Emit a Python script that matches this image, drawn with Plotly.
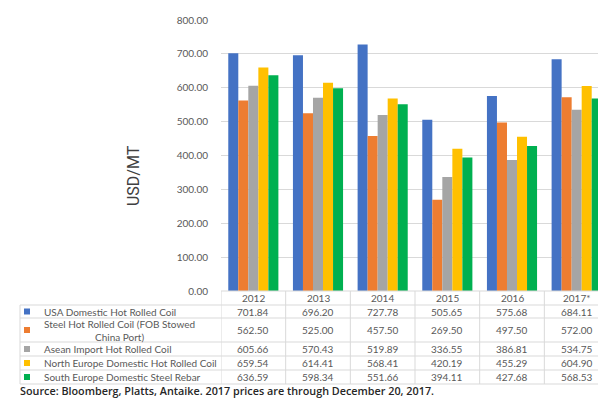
import plotly.graph_objects as go

years = ["2012", "2013", "2014", "2015", "2016", "2017*"]
series_names = [
    "USA Domestic Hot Rolled Coil",
    "Steel Hot Rolled Coil (FOB Stowed<br>China Port)",
    "Asean Import Hot Rolled Coil",
    "North Europe Domestic Hot Rolled Coil",
    "South Europe Domestic Steel Rebar",
]
usa = [701.84, 696.20, 727.78, 505.65, 575.68, 684.11]
china = [562.50, 525.00, 457.50, 269.50, 497.50, 572.00]
asean = [605.66, 570.43, 519.89, 336.55, 386.81, 534.75]
north_eu = [659.54, 614.41, 568.41, 420.19, 455.29, 604.90]
south_eu = [636.59, 598.34, 551.66, 394.11, 427.68, 568.53]
series_values = [usa, china, asean, north_eu, south_eu]
colors = ["#4472C4", "#ED7D31", "#A5A5A5", "#FFC000", "#00B050"]
y_ticks = [0, 100, 200, 300, 400, 500, 600, 700, 800]
source_text = "Source: Bloomberg, Platts, Antaike. 2017 prices are through December 20, 2017."

W, H = 606, 398
ML, MR, MT, MB = 213, 5, 12, 115
PW, PH = W - ML - MR, H - MT - MB


def px(x):
    return (x - ML) / PW


def py(y):
    return (H - MB - y) / PH


fig = go.Figure()
for name, vals, c in zip(series_names, series_values, colors):
    fig.add_trace(go.Bar(x=years, y=vals, name=name, marker=dict(color=c, line=dict(width=0))))

grid = "#d9d9d9"
txt = "#595959"
font_fam = "Lato, 'Open Sans', sans-serif"

row_edges = [283, 297, 310, 334, 348, 362, 376]
left_px = 12

shapes = []
shapes.append(dict(type="line", xref="paper", yref="paper", x0=0, x1=1, y0=py(283), y1=py(283), line=dict(color=grid, width=1)))
for yy in row_edges[1:]:
    shapes.append(dict(type="line", xref="paper", yref="paper", x0=px(left_px), x1=1, y0=py(yy), y1=py(yy), line=dict(color=grid, width=1)))
shapes.append(dict(type="line", xref="paper", yref="paper", x0=px(left_px), x1=px(left_px), y0=py(297), y1=py(376), line=dict(color=grid, width=1)))
for i in range(len(years) + 1):
    shapes.append(dict(type="line", xref="x", yref="paper", x0=i - 0.5, x1=i - 0.5, y0=py(283), y1=py(376), line=dict(color=grid, width=1)))

annotations = []
for i, yr in enumerate(years):
    annotations.append(dict(x=i, xref="x", yref="paper", y=py(290), text=yr, showarrow=False,
                            font=dict(size=10, color=txt, family=font_fam), xanchor="center", yanchor="middle"))
for r, (name, vals, c) in enumerate(zip(series_names, series_values, colors)):
    y0, y1 = row_edges[r + 1], row_edges[r + 2]
    yc = (y0 + y1) / 2
    shapes.append(dict(type="rect", xref="paper", yref="paper", x0=px(16), x1=px(22),
                       y0=py(yc + 3), y1=py(yc - 3), fillcolor=c, line=dict(width=0)))
    annotations.append(dict(x=px(34), xref="paper", yref="paper", y=py(yc), text=name, showarrow=False,
                            align="center", xanchor="left", yanchor="middle",
                            font=dict(size=10, color=txt, family=font_fam)))
    for i, v in enumerate(vals):
        annotations.append(dict(x=i, xref="x", yref="paper", y=py(yc), text=f"{v:.2f}", showarrow=False,
                                xanchor="center", yanchor="middle",
                                font=dict(size=10, color=txt, family=font_fam)))

annotations.append(dict(x=px(10), xref="paper", yref="paper", y=py(383), text=source_text, showarrow=False,
                        xanchor="left", yanchor="middle",
                        font=dict(size=10.8, color="#262626", family="'Open Sans', Lato, sans-serif", weight=600)))
annotations.append(dict(x=px(125), xref="paper", yref="paper", y=py(168), text="USD/MT", showarrow=False,
                        textangle=-90, xanchor="center", yanchor="middle",
                        font=dict(size=16, color="#404040", family="'Roboto', sans-serif")))

fig.update_layout(
    width=W, height=H,
    margin=dict(l=ML, r=MR, t=MT, b=MB),
    paper_bgcolor="white", plot_bgcolor="white",
    barmode="group", bargap=0.225, bargroupgap=0,
    showlegend=False,
    shapes=shapes, annotations=annotations,
    font=dict(family=font_fam),
    xaxis=dict(type="category", range=[-0.5, len(years) - 0.5], showticklabels=False, showgrid=False,
               zeroline=False, showline=False, ticks=""),
    yaxis=dict(range=[0, 800], tickvals=y_ticks, tickformat=".2f", showgrid=True, gridcolor=grid, gridwidth=1,
               zeroline=False, showline=False, ticks="", ticklabelstandoff=12,
               tickfont=dict(size=10, color=txt, family=font_fam)),
)

fig.write_html("out.html")
